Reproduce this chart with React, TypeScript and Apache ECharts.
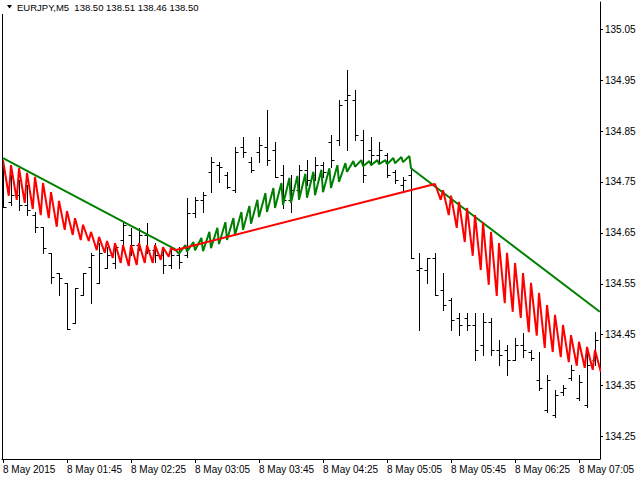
import React, { useEffect, useRef } from "react";
import * as echarts from "echarts";

const timeLabels = ["8 May 2015", "8 May 01:45", "8 May 02:25", "8 May 03:05", "8 May 03:45", "8 May 04:25", "8 May 05:05", "8 May 05:45", "8 May 06:25", "8 May 07:05"];
const timeLabelBars = [0, 8, 16, 24, 32, 40, 48, 56, 64, 72];
const priceTicks = [134.25, 134.35, 134.45, 134.55, 134.65, 134.75, 134.85, 134.95, 135.05];
const titleText = "EURJPY,M5  138.50 138.51 138.46 138.50";

const barOpen = [134.744, 134.711, 134.724, 134.705, 134.685, 134.662, 134.611, 134.571, 134.552, 134.473,
  134.528, 134.583, 134.552, 134.581, 134.591, 134.636, 134.646, 134.626, 134.646, 134.616,
  134.607, 134.587, 134.607, 134.607, 134.689, 134.715, 134.770, 134.783, 134.764, 134.734,
  134.819, 134.789, 134.809, 134.819, 134.813, 134.764, 134.715, 134.734, 134.774, 134.764,
  134.783, 134.829, 134.833, 134.911, 134.911, 134.833, 134.813, 134.803, 134.803, 134.770,
  134.744, 134.764, 134.577, 134.577, 134.601, 134.538, 134.518, 134.483, 134.483, 134.469,
  134.430, 134.475, 134.420, 134.420, 134.400, 134.430, 134.416, 134.361, 134.302, 134.292,
  134.338, 134.365, 134.326, 134.312, 134.400];
const barHigh = [134.783, 134.764, 134.754, 134.744, 134.691, 134.662, 134.611, 134.571, 134.552, 134.542,
  134.571, 134.611, 134.630, 134.622, 134.630, 134.671, 134.660, 134.660, 134.669, 134.630,
  134.616, 134.622, 134.622, 134.719, 134.721, 134.730, 134.799, 134.789, 134.770, 134.819,
  134.838, 134.799, 134.838, 134.891, 134.829, 134.783, 134.764, 134.783, 134.793, 134.799,
  134.789, 134.842, 134.911, 134.970, 134.931, 134.852, 134.838, 134.829, 134.807, 134.774,
  134.760, 134.778, 134.611, 134.601, 134.611, 134.571, 134.522, 134.493, 134.493, 134.493,
  134.493, 134.483, 134.440, 134.430, 134.444, 134.453, 134.420, 134.416, 134.371, 134.341,
  134.351, 134.391, 134.371, 134.420, 134.455];
const barLow = [134.701, 134.705, 134.695, 134.685, 134.652, 134.611, 134.552, 134.528, 134.461, 134.473,
  134.528, 134.512, 134.552, 134.581, 134.581, 134.616, 134.607, 134.616, 134.611, 134.593,
  134.571, 134.581, 134.581, 134.603, 134.681, 134.691, 134.730, 134.750, 134.738, 134.730,
  134.799, 134.770, 134.789, 134.783, 134.760, 134.699, 134.691, 134.724, 134.744, 134.754,
  134.760, 134.780, 134.823, 134.813, 134.833, 134.750, 134.783, 134.789, 134.760, 134.748,
  134.730, 134.601, 134.459, 134.552, 134.528, 134.499, 134.459, 134.449, 134.459, 134.400,
  134.410, 134.410, 134.391, 134.371, 134.400, 134.406, 134.400, 134.341, 134.298, 134.288,
  134.332, 134.361, 134.322, 134.308, 134.391];
const barClose = [134.701, 134.724, 134.705, 134.695, 134.662, 134.620, 134.564, 134.561, 134.461, 134.542,
  134.571, 134.607, 134.611, 134.607, 134.622, 134.666, 134.626, 134.646, 134.616, 134.607,
  134.587, 134.607, 134.593, 134.689, 134.715, 134.724, 134.789, 134.780, 134.740, 134.809,
  134.809, 134.774, 134.823, 134.793, 134.760, 134.715, 134.734, 134.774, 134.754, 134.783,
  134.770, 134.793, 134.901, 134.921, 134.842, 134.764, 134.803, 134.813, 134.764, 134.754,
  134.754, 134.601, 134.581, 134.601, 134.528, 134.508, 134.479, 134.469, 134.469, 134.420,
  134.475, 134.420, 134.410, 134.400, 134.430, 134.420, 134.404, 134.345, 134.361, 134.332,
  134.345, 134.381, 134.357, 134.391, 134.440];

// red line: falling saw (bars 0..21), rising trend, falling saw (bars 54..74)
const redSaw1StartBar = 0;
const redSaw1Peaks = [134.793, 134.783, 134.777, 134.768, 134.760, 134.748, 134.730, 134.713, 134.693, 134.679, 134.666, 134.652, 134.642, 134.634, 134.630, 134.626, 134.626, 134.630, 134.626, 134.626, 134.622, 134.620];
const redSaw1Troughs = [134.723, 134.715, 134.709, 134.697, 134.685, 134.679, 134.662, 134.656, 134.646, 134.636, 134.634, 134.616, 134.611, 134.601, 134.591, 134.585, 134.587, 134.591, 134.591, 134.597, 134.603];
const redTrendBars = [21.5, 54];
const redTrendValues = [134.616, 134.746];
const redSaw2StartBar = 54;
const redSaw2Peaks = [134.746, 134.734, 134.723, 134.711, 134.699, 134.685, 134.671, 134.652, 134.630, 134.611, 134.591, 134.571, 134.552, 134.532, 134.508, 134.489, 134.469, 134.449, 134.436, 134.426, 134.420];
const redSaw2Troughs = [134.715, 134.685, 134.660, 134.632, 134.605, 134.577, 134.548, 134.526, 134.512, 134.495, 134.483, 134.455, 134.448, 134.424, 134.416, 134.406, 134.396, 134.389, 134.385, 134.381, 134.377];

// green line: falling trend, rising saw (bars 22..50), falling trend
const greenTrend1Bars = [0, 21.5];
const greenTrend1Values = [134.797, 134.618];
const greenSawStartBar = 22;
const greenSawTroughs = [134.609, 134.613, 134.616, 134.614, 134.620, 134.628, 134.636, 134.646, 134.656, 134.668, 134.681, 134.691, 134.699, 134.705, 134.709, 134.715, 134.719, 134.724, 134.730, 134.738, 134.750, 134.770, 134.780, 134.781, 134.783, 134.785, 134.785, 134.787, 134.789];
const greenSawPeaks = [134.626, 134.632, 134.640, 134.652, 134.660, 134.671, 134.679, 134.691, 134.703, 134.715, 134.728, 134.738, 134.748, 134.758, 134.762, 134.766, 134.770, 134.774, 134.777, 134.783, 134.787, 134.791, 134.793, 134.791, 134.793, 134.793, 134.797, 134.799, 134.801];
const greenTrend2Bars = [51, 74.6];
const greenTrend2Values = [134.777, 134.495];

const TOOTH = 0.72;

function buildRed() {
  const d: number[][] = [];
  redSaw1Peaks.forEach((v, i) => {
    d.push([redSaw1StartBar + i, v]);
    if (i < redSaw1Troughs.length) d.push([redSaw1StartBar + i + TOOTH, redSaw1Troughs[i]]);
  });
  redTrendBars.forEach((b, i) => d.push([b, redTrendValues[i]]));
  redSaw2Peaks.forEach((v, i) => {
    d.push([redSaw2StartBar + i, v]);
    if (i < redSaw2Troughs.length) d.push([redSaw2StartBar + i + TOOTH, redSaw2Troughs[i]]);
  });
  return d;
}

function buildGreen() {
  const d: number[][] = [];
  greenTrend1Bars.forEach((b, i) => d.push([b, greenTrend1Values[i]]));
  greenSawTroughs.forEach((v, i) => {
    d.push([greenSawStartBar + i, v]);
    d.push([greenSawStartBar + i + 0.8, greenSawPeaks[i]]);
  });
  greenTrend2Bars.forEach((b, i) => d.push([b, greenTrend2Values[i]]));
  return d;
}

const FONT = "'Liberation Sans', Arial, sans-serif";

export default function App() {
  const ref = useRef<HTMLDivElement>(null);
  useEffect(() => {
    if (!ref.current) return;
    const chart = echarts.init(ref.current, null, { renderer: "svg" });
    const ohlc = barOpen.map((o, i) => [i, o, barHigh[i], barLow[i], barClose[i]]);
    chart.setOption({
      animation: false,
      backgroundColor: "#ffffff",
      grid: { left: 2, top: 2, right: 40, bottom: 21, show: false },
      xAxis: {
        type: "value",
        min: -0.125,
        max: 74.625,
        axisLine: { show: true, onZero: false, lineStyle: { color: "#000", width: 1 } },
        axisTick: { show: true, inside: false, length: 4, customValues: timeLabelBars, lineStyle: { color: "#000" } },
        axisLabel: {
          customValues: timeLabelBars,
          formatter: (v: number) => timeLabels[timeLabelBars.indexOf(Math.round(v))] ?? "",
          align: "left",
          color: "#000",
          fontFamily: FONT,
          fontSize: 10,
          margin: 5,
          hideOverlap: false,
        },
        splitLine: { show: false },
      },
      yAxis: {
        type: "value",
        position: "right",
        min: 134.2058,
        max: 135.1036,
        axisLine: { show: true, onZero: false, lineStyle: { color: "#000", width: 1 } },
        axisTick: { show: true, inside: false, length: 3, customValues: priceTicks, lineStyle: { color: "#000" } },
        axisLabel: {
          customValues: priceTicks,
          formatter: (v: number) => v.toFixed(2),
          align: "left",
          color: "#000",
          fontFamily: FONT,
          fontSize: 10,
          margin: 5,
        },
        splitLine: { show: false },
      },
      graphic: [
        { type: "line", shape: { x1: 2.5, y1: 14, x2: 2.5, y2: 459 }, style: { stroke: "#000", lineWidth: 1 }, z: 100 },
        { type: "polygon", shape: { points: [[7, 5], [12, 5], [9.5, 8.5]] }, style: { fill: "#000" }, z: 100 },
        { type: "text", x: 17, y: 7.5, style: { text: titleText, fill: "#000", font: `9.5px ${FONT}`, verticalAlign: "middle" }, z: 100 },
      ],
      series: [
        {
          type: "custom",
          clip: true,
          z: 1,
          data: ohlc,
          renderItem: (_p: any, api: any) => {
            const k = api.value(0);
            const o = api.coord([k, api.value(1)]);
            const h = api.coord([k, api.value(2)]);
            const l = api.coord([k, api.value(3)]);
            const c = api.coord([k, api.value(4)]);
            const x = Math.round(o[0]) + 0.5;
            const st = { stroke: "#000", lineWidth: 1 };
            const oy = Math.round(o[1]) + 0.5;
            const cy = Math.round(c[1]) + 0.5;
            return {
              type: "group",
              children: [
                { type: "line", shape: { x1: x, y1: Math.round(h[1]), x2: x, y2: Math.round(l[1]) + 1 }, style: st },
                { type: "line", shape: { x1: x - 3, y1: oy, x2: x, y2: oy }, style: st },
                { type: "line", shape: { x1: x, y1: cy, x2: x + 3, y2: cy }, style: st },
              ],
            };
          },
        },
        {
          type: "line",
          z: 3,
          data: buildGreen(),
          symbol: "none",
          clip: true,
          lineStyle: { color: "#008000", width: 2 },
        },
        {
          type: "line",
          z: 4,
          data: buildRed(),
          symbol: "none",
          clip: true,
          lineStyle: { color: "#ff0000", width: 2 },
        },
      ],
    });
    return () => chart.dispose();
  }, []);
  return <div ref={ref} style={{ position: "fixed", left: 0, top: 0, width: 640, height: 480 }} />;
}
